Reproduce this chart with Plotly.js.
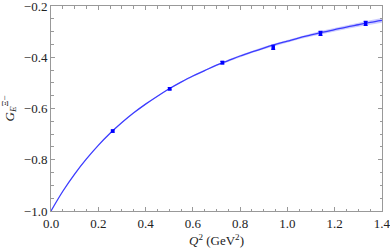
<!DOCTYPE html>
<html>
<head>
<meta charset="utf-8">
<script src="https://cdn.plot.ly/plotly-3.0.1.min.js"></script>
<style>html,body{margin:0;padding:0;background:#fff;}#chart{width:390px;height:250px;}</style>
</head>
<body>
<div id="chart"></div>
<script>
// Fitted curve
const curveQ2 = [0,0.05,0.1,0.15,0.2,0.25,0.3,0.35,0.4,0.45,0.5,0.55,0.6,0.65,0.7,0.75,0.8,0.85,0.9,0.95,1.0,1.05,1.1,1.15,1.2,1.25,1.3,1.35,1.4];
const curveG = [-1.0,-0.923,-0.856,-0.797,-0.744,-0.697,-0.655,-0.617,-0.583,-0.552,-0.523,-0.497,-0.473,-0.452,-0.431,-0.413,-0.395,-0.379,-0.364,-0.350,-0.337,-0.324,-0.313,-0.302,-0.292,-0.282,-0.273,-0.264,-0.256];
const bandHalf = [0,0.001,0.001,0.001,0.001,0.001,0.001,0.0015,0.002,0.002,0.002,0.0025,0.003,0.003,0.0035,0.004,0.004,0.0045,0.005,0.005,0.0055,0.006,0.006,0.0065,0.007,0.0075,0.008,0.0085,0.009];
// Lattice data points
const dataQ2 = [0.261,0.502,0.725,0.94,1.14,1.331];
const dataG = [-0.688,-0.523,-0.421,-0.361,-0.307,-0.268];
const dataErr = [0.004,0.004,0.005,0.008,0.008,0.008];
const xTicks = [0,0.2,0.4,0.6,0.8,1.0,1.2,1.4];
const xTickText = ['0.0','0.2','0.4','0.6','0.8','1.0','1.2','1.4'];
const yTicks = [-1.0,-0.8,-0.6,-0.4,-0.2];
const yTickText = ['\u22121.0','\u22120.8','\u22120.6','\u22120.4','\u22120.2'];

const upper = curveG.map((v,i)=>v+bandHalf[i]);
const lower = curveG.map((v,i)=>v-bandHalf[i]);

const traces = [
  {x: curveQ2, y: lower, mode:'lines', line:{width:0}, hoverinfo:'skip', showlegend:false},
  {x: curveQ2, y: upper, mode:'lines', line:{width:0}, fill:'tonexty', fillcolor:'rgba(110,110,255,0.35)', hoverinfo:'skip', showlegend:false},
  {x: curveQ2, y: curveG, mode:'lines', line:{color:'#3c3cff', width:1.3, shape:'spline'}, showlegend:false},
  {x: dataQ2, y: dataG, mode:'markers', marker:{color:'#0000ff', size:3.5, symbol:'square'},
   error_y:{type:'data', array:dataErr, visible:true, color:'#0000ff', thickness:1.2, width:2}, showlegend:false}
];

const font = {family:'"Liberation Serif", "DejaVu Serif", serif', size:13, color:'#222'};
const axisCommon = {
  showgrid:false, zeroline:false, showline:true, linecolor:'#999', linewidth:1,
  mirror:'allticks', ticks:'inside', ticklen:4, tickcolor:'#999', tickwidth:1,
  tickfont: font, ticklabeloverflow:'allow'
};
const layout = {
  width:390, height:250,
  margin:{l:51, r:8, t:6, b:39},
  paper_bgcolor:'#fff', plot_bgcolor:'#fff',
  font: font,
  xaxis: Object.assign({}, axisCommon, {
    range:[0,1.4002], tickvals:xTicks, ticktext:xTickText,
    minor:{dtick:0.05, tick0:0, ticks:'inside', ticklen:2.5, tickcolor:'#999', showgrid:false},
    title:{text:'<i>Q</i><sup>2</sup> (GeV<sup>2</sup>)', font:font, standoff:6}
  }),
  yaxis: Object.assign({}, axisCommon, {
    range:[-1.0002,-0.1998], tickvals:yTicks, ticktext:yTickText,
    minor:{dtick:0.05, tick0:0, ticks:'inside', ticklen:2.5, tickcolor:'#999', showgrid:false},
    title:{text:'<i>G</i><sub><i>E</i></sub><sup>\u039E\u2212</sup>', font:font, standoff:6}
  })
};
Plotly.newPlot('chart', traces, layout, {displayModeBar:false, staticPlot:true});
</script>
</body>
</html>
